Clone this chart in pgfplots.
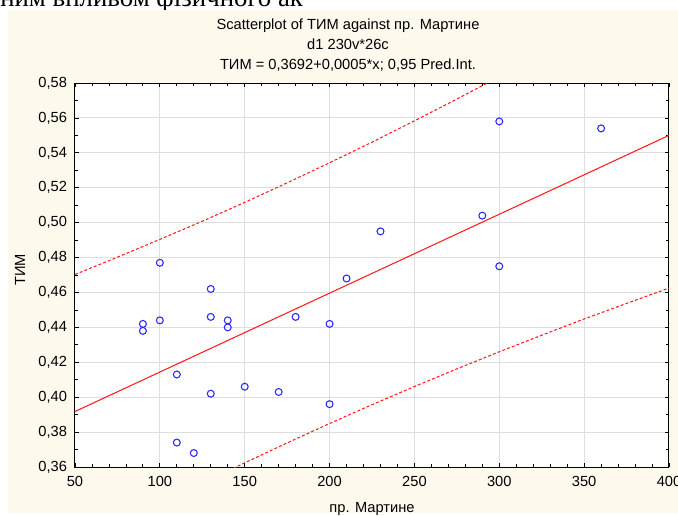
\documentclass[border=0pt]{standalone}
\usepackage{fontspec}
\setmainfont{Liberation Sans}
\newfontfamily\serifcut{Liberation Serif}
\usepackage{graphicx}
\usepackage{pgfplots}
\pgfplotsset{compat=1.18}

\definecolor{cream}{RGB}{254,249,237}
\definecolor{gridgray}{RGB}{222,222,222}
\definecolor{ptblue}{RGB}{40,40,255}
\definecolor{fitred}{RGB}{255,30,30}

\begin{document}
\begin{tikzpicture}
\useasboundingbox (-56.25pt,-36pt) rectangle (452.25pt,350.25pt);
\fill[white] (-56.25pt,-36pt) rectangle (452.25pt,350.25pt);
\fill[cream] (-50.25pt,-34.5pt) rectangle (452.25pt,342.75pt);
% cut-off line of text above the chart
\begin{scope}
\clip (-56.25pt,342.75pt) rectangle (452.25pt,350.25pt);
\node[anchor=base west, inner sep=0pt]
  at (-56.25pt,345pt) {\resizebox{227pt}{!}{\serifcut ним впливом фізичного ак}};
\end{scope}

\begin{axis}[
  at={(0,0)}, anchor=south west,
  scale only axis, width=445.5pt, height=288pt,
  xmin=50, xmax=400, ymin=0.36, ymax=0.58,
  xtick={50,100,150,200,250,300,350,400},
  ytick={0.36,0.38,0.40,0.42,0.44,0.46,0.48,0.50,0.52,0.54,0.56,0.58},
  minor x tick num=4, minor y tick num=1,
  grid=major, major grid style={gridgray, line width=0.75pt},
  axis background/.style={fill=white},
  axis line style={black, line width=0.75pt},
  tick style={black, line width=0.6pt},
  major tick length=3pt, minor tick length=2pt,
  tick align=inside,
  /pgf/number format/assume math mode=true,
  ticklabel style={font=\fontsize{11}{13}\selectfont},
  xticklabel style={yshift=-3.75pt, /pgf/number format/.cd, fixed, precision=0},
  yticklabel style={xshift=-2.5pt, /pgf/number format/.cd, fixed, fixed zerofill, precision=2, use comma},
  title={Scatterplot of ТИМ against пр. Мартине\\d1 230v*26c\\ТИМ = 0,3692+0,0005*x; 0,95 Pred.Int.},
  title style={at={(axis description cs:0.4596,1.0781)}, anchor=center, align=center,
    font=\fontsize{11}{15}\selectfont},
  xlabel={пр. Мартине},
  xlabel style={at={(axis description cs:0.5,-0.1094)}, anchor=center, font=\fontsize{11}{13}\selectfont},
  ylabel={ТИМ},
  ylabel style={at={(axis description cs:-0.0926,0.513)}, anchor=center, rotate=0, font=\fontsize{11}{13}\selectfont},
]
% prediction interval, upper and lower
\addplot[fitred, line width=0.8pt, dash pattern=on 2.2pt off 1.6pt] coordinates {
  (50,0.4703) (75,0.4802) (100,0.4904) (125,0.5008) (150,0.5116) (175,0.5228)
  (200,0.5343) (225,0.5461) (250,0.5583) (275,0.5708) (300,0.5836) (325,0.5967)
  (350,0.6101) (375,0.6237) (400,0.6375)};
\addplot[fitred, line width=0.8pt, dash pattern=on 2.2pt off 1.6pt] coordinates {
  (50,0.3133) (75,0.3260) (100,0.3385) (125,0.3506) (150,0.3624) (175,0.3738)
  (200,0.3849) (225,0.3957) (250,0.4061) (275,0.4162) (300,0.4260) (325,0.4355)
  (350,0.4448) (375,0.4537) (400,0.4625)};
% fitted line
\addplot[fitred, line width=0.8pt] coordinates {(50,0.3918) (400,0.5500)};
% observations
\addplot[only marks, mark=o, mark size=2.6pt, ptblue, mark options={line width=0.8pt}] coordinates {
  (90,0.442) (90,0.438) (100,0.477) (100,0.444) (110,0.413) (110,0.374)
  (120,0.368) (130,0.462) (130,0.446) (130,0.402) (140,0.444) (140,0.440)
  (150,0.406) (170,0.403) (180,0.446) (200,0.442) (200,0.396) (210,0.468)
  (230,0.495) (290,0.504) (300,0.558) (300,0.475) (360,0.554)};
\end{axis}
\end{tikzpicture}
\end{document}
